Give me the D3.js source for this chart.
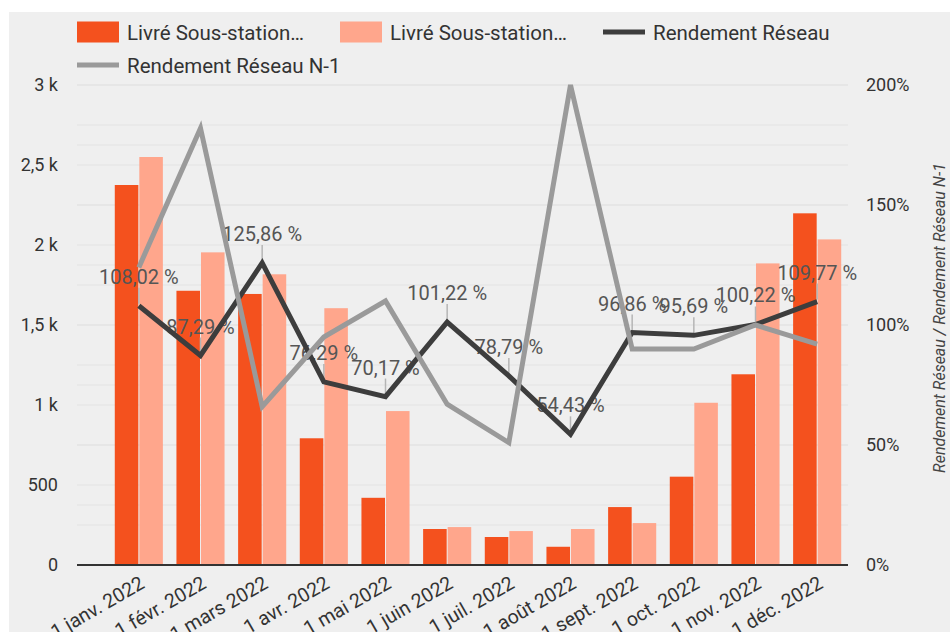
<!DOCTYPE html>
<html>
<head>
<meta charset="utf-8">
<script src="https://cdn.jsdelivr.net/npm/d3@7"></script>
<style>
  html, body { margin: 0; padding: 0; background: #fff; }
  svg { display: block; font-family: Roboto, "Noto Sans", sans-serif; }
</style>
</head>
<body>
<svg id="chart" width="950" height="632"></svg>
<script>
// Values
const months = ['1 janv. 2022', '1 févr. 2022', '1 mars 2022', '1 avr. 2022', '1 mai 2022', '1 juin 2022',
  '1 juil. 2022', '1 août 2022', '1 sept. 2022', '1 oct. 2022', '1 nov. 2022', '1 déc. 2022'];
const livre = [2375, 1714, 1694, 792, 420, 225, 175, 114, 362, 552, 1192, 2198];
const livreN1 = [2550, 1954, 1817, 1605, 962, 237, 212, 225, 262, 1014, 1885, 2035];
const rendement = [108.02, 87.29, 125.86, 76.29, 70.17, 101.22, 78.79, 54.43, 96.86, 95.69, 100.22, 109.77];
const rendementN1 = [124, 182, 66, 95, 110, 67, 51, 200, 90, 90, 100, 92];

const leftTicks = [0, 500, 1000, 1500, 2000, 2500, 3000];
const leftTickLabels = ['0', '500', '1 k', '1,5 k', '2 k', '2,5 k', '3 k'];
const rightTicks = [0, 50, 100, 150, 200];
const legendItems = [
  { label: 'Livré Sous-station…', kind: 'rect', color: '#F4511E' },
  { label: 'Livré Sous-station…', kind: 'rect', color: '#FFA68C' },
  { label: 'Rendement Réseau', kind: 'line', color: '#3d3d3d' },
  { label: 'Rendement Réseau N-1', kind: 'line', color: '#9a9a9a' }
];

const svg = d3.select('#chart');
const W = 950, H = 632;
const plot = { left: 77, right: 848, top: 85, bottom: 565 };

// panel background
svg.append('rect').attr('x', 9).attr('y', 12).attr('width', W - 9).attr('height', H - 12).attr('fill', '#efefef');

const y = d3.scaleLinear().domain([0, 3000]).range([plot.bottom, plot.top]);
const y2 = d3.scaleLinear().domain([0, 200]).range([plot.bottom, plot.top]);
const x0 = d3.scaleBand().domain(months).range([108, plot.right]).paddingInner(0.22).paddingOuter(0.11);
const x1 = d3.scaleBand().domain([0, 1]).range([0, x0.bandwidth()]).paddingInner(0.04);
const cx = m => x0(m) + x0.bandwidth() / 2;

// grid: major + minor for both axes
const gridVals = d3.range(0, 3001, 250).map(v => y(v)).concat(d3.range(0, 201, 25).map(v => y2(v)));
svg.append('g').selectAll('line').data(gridVals).join('line')
  .attr('x1', plot.left).attr('x2', plot.right)
  .attr('y1', d => d).attr('y2', d => d)
  .attr('stroke', '#e3e3e3').attr('stroke-width', 1);

// left axis labels
const leftAxis = d3.axisLeft(y).tickValues(leftTicks).tickFormat((d, i) => leftTickLabels[i]).tickSize(0).tickPadding(0);
svg.append('g').attr('transform', `translate(58,0)`).call(leftAxis)
  .call(g => g.select('.domain').remove())
  .call(g => g.selectAll('text').attr('fill', '#333').attr('font-size', 18).attr('font-family', 'Roboto'));

// right axis labels
const rightAxis = d3.axisRight(y2).tickValues(rightTicks).tickFormat(d => d + '%').tickSize(0).tickPadding(0);
svg.append('g').attr('transform', `translate(866,0)`).call(rightAxis)
  .call(g => g.select('.domain').remove())
  .call(g => g.selectAll('text').attr('fill', '#333').attr('font-size', 18).attr('font-family', 'Roboto'));

svg.append('text')
  .attr('transform', `translate(945,318) rotate(-90)`)
  .attr('text-anchor', 'middle')
  .attr('font-size', 16).attr('font-style', 'italic').attr('fill', '#444')
  .text('Rendement Réseau / Rendement Réseau N-1');

// bars
const bars = svg.append('g');
bars.selectAll('rect.cur').data(months).join('rect').attr('class', 'cur')
  .attr('x', m => x0(m) + x1(0)).attr('width', x1.bandwidth())
  .attr('y', (m, i) => y(livre[i])).attr('height', (m, i) => y(0) - y(livre[i]))
  .attr('fill', '#F4511E');
bars.selectAll('rect.prev').data(months).join('rect').attr('class', 'prev')
  .attr('x', m => x0(m) + x1(1)).attr('width', x1.bandwidth())
  .attr('y', (m, i) => y(livreN1[i])).attr('height', (m, i) => y(0) - y(livreN1[i]))
  .attr('fill', '#FFA68C');

// x axis baseline + labels
svg.append('line').attr('x1', plot.left).attr('x2', plot.right).attr('y1', plot.bottom).attr('y2', plot.bottom)
  .attr('stroke', '#333').attr('stroke-width', 2);
svg.append('g').selectAll('text').data(months).join('text')
  .attr('transform', m => `translate(${cx(m) + 7},${plot.bottom + 22}) rotate(-30)`)
  .attr('text-anchor', 'end')
  .attr('font-size', 19.5).attr('fill', '#333')
  .text(m => m);

// data labels with leaders
const fmt = v => v.toFixed(2).replace('.', ',') + ' %';
const lbl = svg.append('g');
lbl.selectAll('line').data(months).join('line')
  .attr('x1', cx).attr('x2', cx)
  .attr('y1', (m, i) => y2(rendement[i]) - 2).attr('y2', (m, i) => y2(rendement[i]) - 18)
  .attr('stroke', '#b5b5b5').attr('stroke-width', 1.5);
lbl.selectAll('text').data(months).join('text')
  .attr('x', cx).attr('y', (m, i) => y2(rendement[i]) - 22)
  .attr('text-anchor', 'middle')
  .attr('font-size', 20).attr('fill', '#555')
  .text((m, i) => fmt(rendement[i]));

// lines
const line = d3.line().x(d => cx(d.m)).y(d => y2(d.v));
svg.append('path').datum(months.map((m, i) => ({ m, v: rendement[i] })))
  .attr('d', line).attr('fill', 'none').attr('stroke', '#3d3d3d').attr('stroke-width', 5).attr('stroke-linejoin', 'miter');
svg.append('path').datum(months.map((m, i) => ({ m, v: rendementN1[i] })))
  .attr('d', line).attr('fill', 'none').attr('stroke', '#9a9a9a').attr('stroke-width', 5).attr('stroke-linejoin', 'miter');

// legend
const legendPos = [[77, 32], [340, 32], [603, 32], [77, 65]];
const lg = svg.append('g');
legendItems.forEach((d, i) => {
  const [lx, ly] = legendPos[i];
  if (d.kind === 'rect') {
    lg.append('rect').attr('x', lx).attr('y', ly - 10.5).attr('width', 42).attr('height', 21).attr('fill', d.color);
  } else {
    lg.append('rect').attr('x', lx).attr('y', ly - 2.5).attr('width', 42).attr('height', 5).attr('fill', d.color);
  }
  lg.append('text').attr('x', lx + 50).attr('y', ly + 7.5)
    .attr('font-size', 20.5).attr('fill', '#333').text(d.label);
});
</script>
</body>
</html>
